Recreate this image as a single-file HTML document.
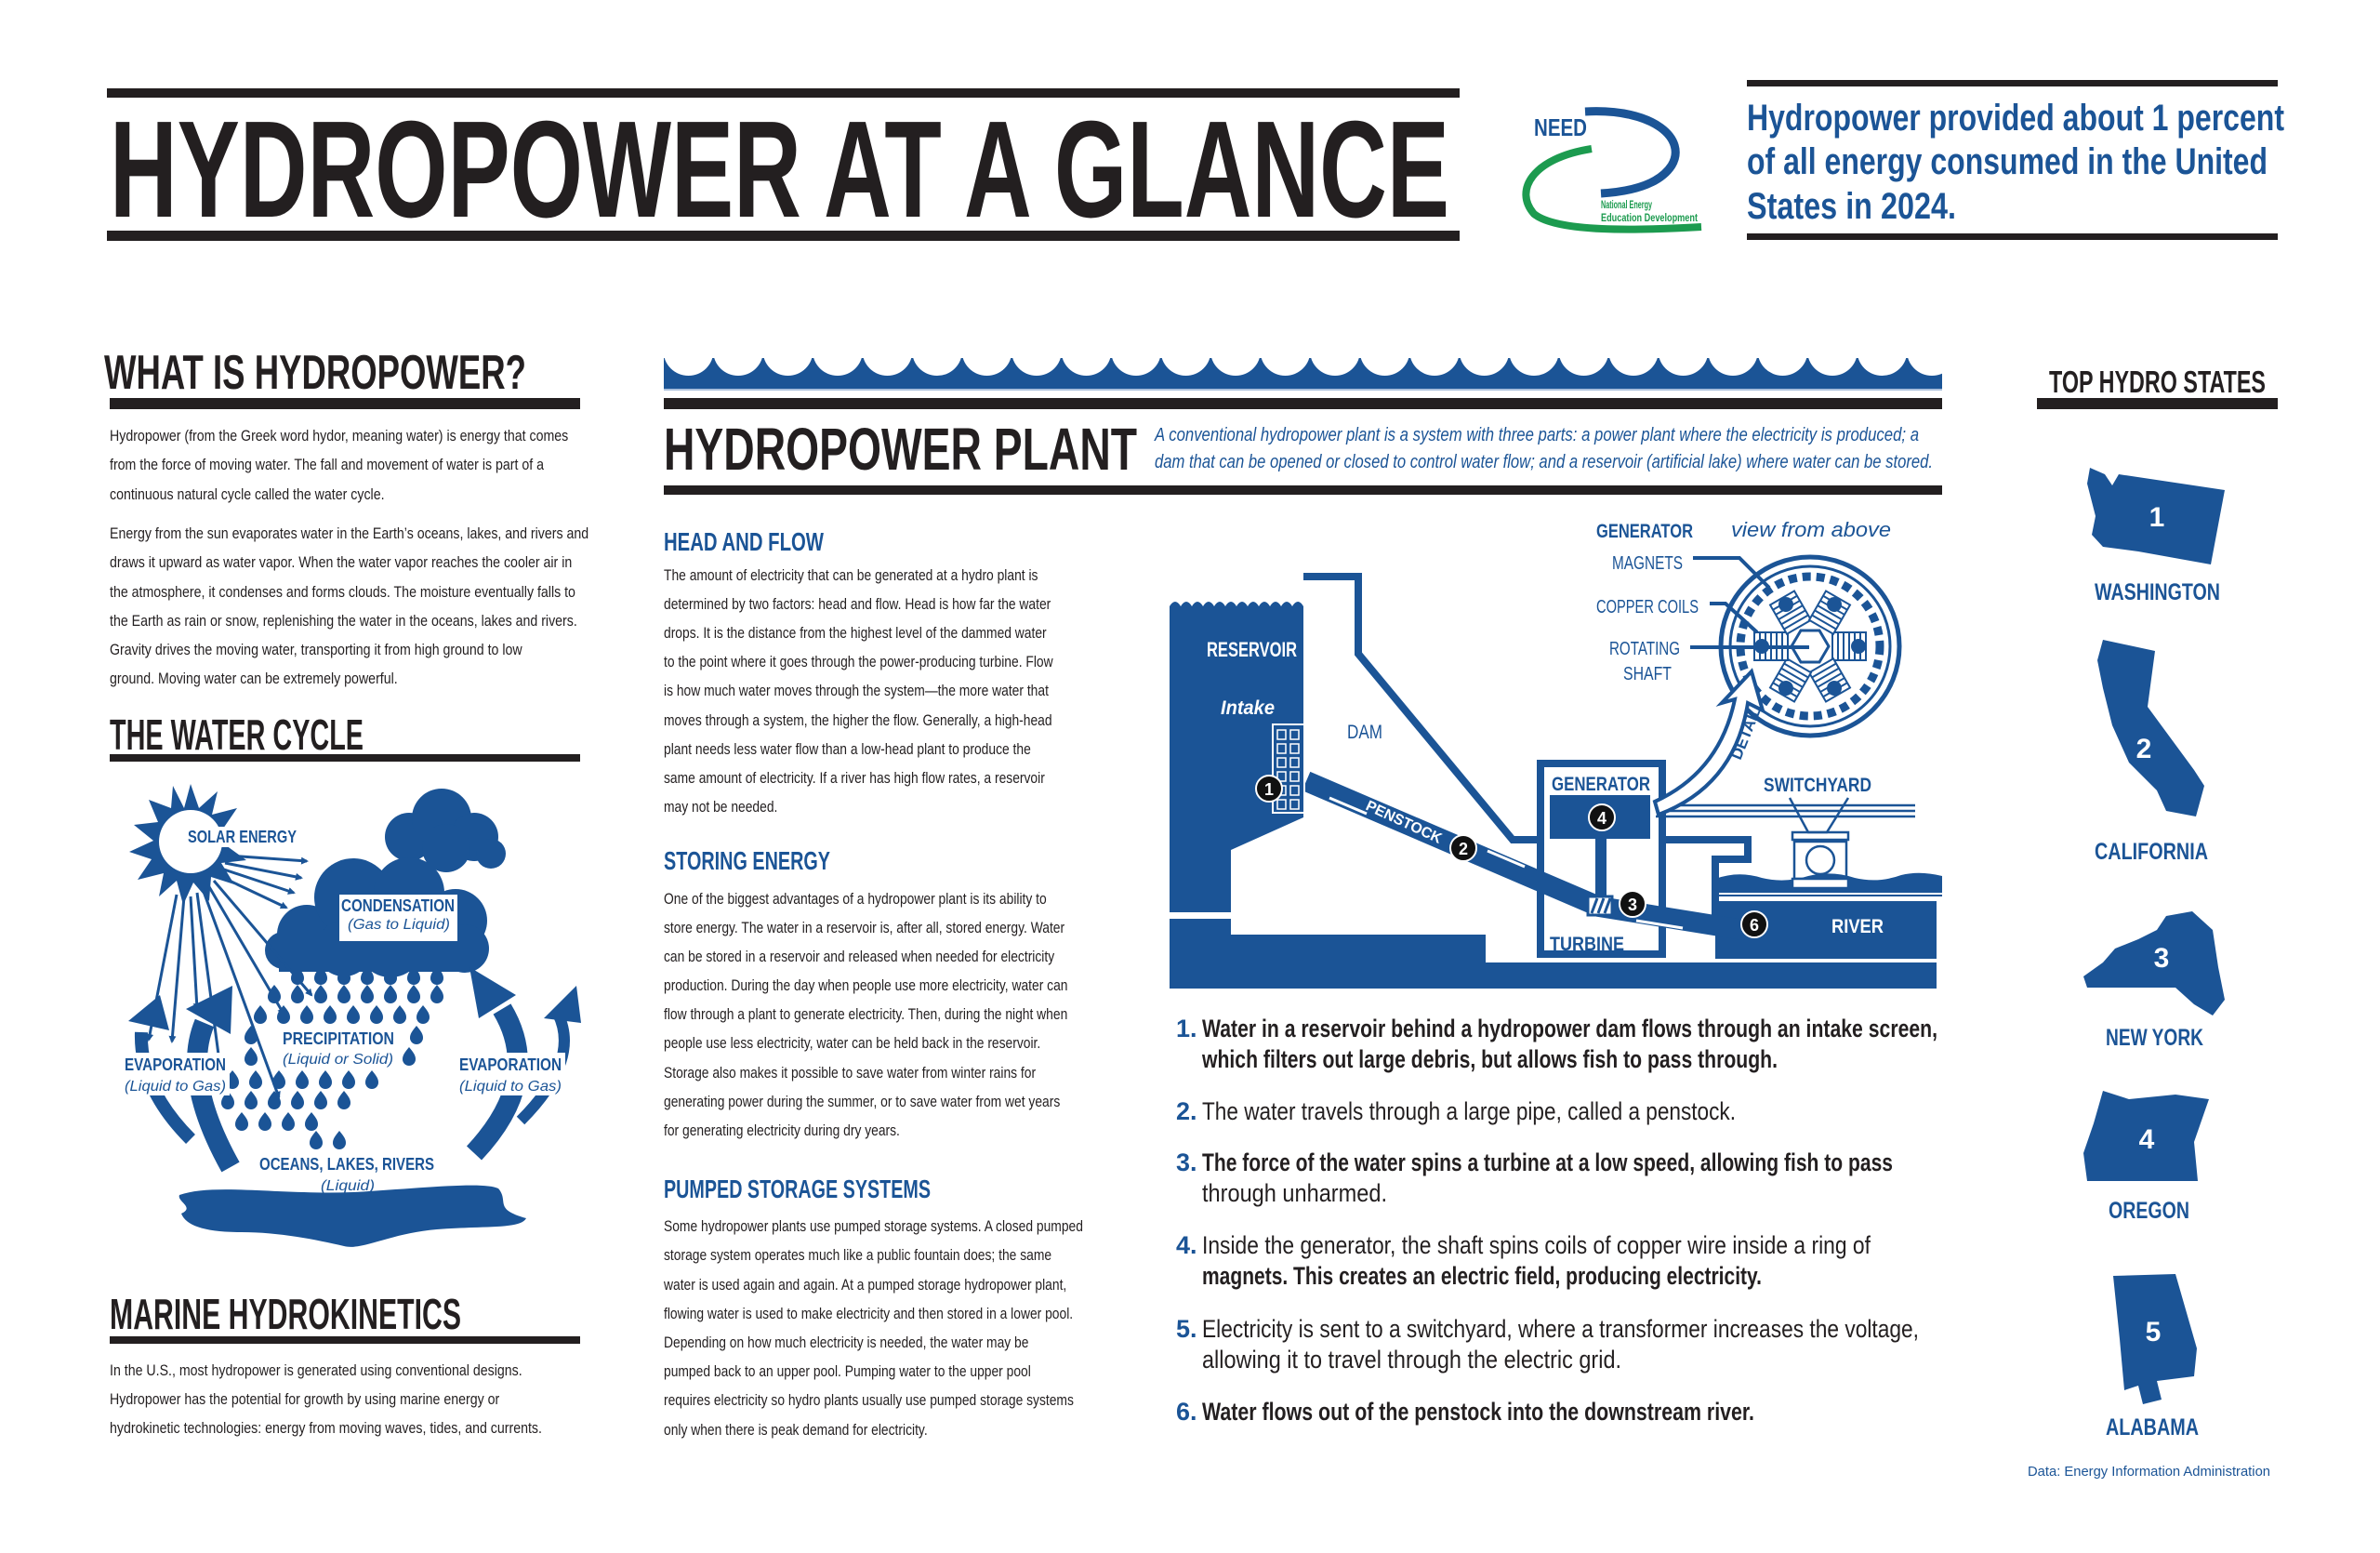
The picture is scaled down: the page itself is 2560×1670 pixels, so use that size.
<!DOCTYPE html>
<html><head><meta charset="utf-8"><style>
html,body{margin:0;padding:0;background:#fff;}
svg{display:block;}
text{font-family:"Liberation Sans",sans-serif;}
</style></head><body>
<svg width="2560" height="1670" viewBox="0 0 2560 1670" xmlns="http://www.w3.org/2000/svg">
<defs>
<path id="drop" d="M0,-9 C5,-3 7,0 7,4 A7,7 0 0 1 -7,4 C-7,0 -5,-3 0,-9Z" fill="#1b5496"/>
<marker id="ah" markerWidth="8" markerHeight="8" refX="6" refY="4" orient="auto" markerUnits="userSpaceOnUse"><path d="M0,0 L8,4 L0,8Z" fill="#1b5496"/></marker>
</defs>
<rect width="2560" height="1670" fill="#fff"/>

<!-- HEADER -->
<rect x="115" y="95" width="1455" height="10" fill="#231f20"/>
<rect x="115" y="248" width="1455" height="11" fill="#231f20"/>
<text x="118" y="233" font-size="148" font-weight="bold" fill="#231f20" textLength="1441" lengthAdjust="spacingAndGlyphs">HYDROPOWER AT A GLANCE</text>

<!-- NEED logo -->
<path d="M1705,120 C1780,116 1815,150 1798,178 C1785,198 1755,206 1722,208" fill="none" stroke="#1b5496" stroke-width="9"/>
<path d="M1712,160 C1648,170 1628,205 1650,230 C1675,250 1760,248 1830,244" fill="none" stroke="#1c9b4f" stroke-width="8"/>
<text x="1650" y="146" font-size="26" font-weight="bold" fill="#1b5496" textLength="57" lengthAdjust="spacingAndGlyphs">NEED</text>
<text x="1722" y="224" font-size="12" font-weight="bold" fill="#1c9b4f" textLength="55" lengthAdjust="spacingAndGlyphs">National Energy</text>
<text x="1722" y="238" font-size="12" font-weight="bold" fill="#1c9b4f" textLength="104" lengthAdjust="spacingAndGlyphs">Education Development</text>

<rect x="1879" y="86" width="571" height="7" fill="#231f20"/>
<rect x="1879" y="251" width="571" height="7" fill="#231f20"/>
<g font-size="40" font-weight="bold" fill="#1b5496">
<text x="1879" y="140" textLength="578" lengthAdjust="spacingAndGlyphs">Hydropower provided about 1 percent</text>
<text x="1879" y="187" textLength="560" lengthAdjust="spacingAndGlyphs">of all energy consumed in the United</text>
<text x="1879" y="235" textLength="225" lengthAdjust="spacingAndGlyphs">States in 2024.</text>
</g>

<!-- LEFT COLUMN -->
<text x="112" y="418" font-size="52" font-weight="bold" fill="#231f20" textLength="454" lengthAdjust="spacingAndGlyphs">WHAT IS HYDROPOWER?</text>
<rect x="118" y="428" width="506" height="12" fill="#231f20"/>
<g transform="translate(118,0) scale(0.86,1)"><text font-size="16.5" fill="#231f20">
<tspan x="0" y="474">Hydropower (from the Greek word hydor, meaning water) is energy that comes</tspan>
<tspan x="0" y="505">from the force of moving water. The fall and movement of water is part of a</tspan>
<tspan x="0" y="537">continuous natural cycle called the water cycle.</tspan>
<tspan x="0" y="579">Energy from the sun evaporates water in the Earth’s oceans, lakes, and rivers and</tspan>
<tspan x="0" y="610">draws it upward as water vapor. When the water vapor reaches the cooler air in</tspan>
<tspan x="0" y="642">the atmosphere, it condenses and forms clouds. The moisture eventually falls to</tspan>
<tspan x="0" y="673">the Earth as rain or snow, replenishing the water in the oceans, lakes and rivers.</tspan>
<tspan x="0" y="704">Gravity drives the moving water, transporting it from high ground to low</tspan>
<tspan x="0" y="735">ground. Moving water can be extremely powerful.</tspan>
</text></g>

<text x="118" y="806" font-size="46" font-weight="bold" fill="#231f20" textLength="273" lengthAdjust="spacingAndGlyphs">THE WATER CYCLE</text>
<rect x="118" y="811" width="506" height="8" fill="#231f20"/>

<!-- water cycle -->
<g fill="#1b5496" stroke="none">
<polygon points="205,843 214,869 234,851 228,876 255,869 240,891 267,895 243,909 265,925 238,928 252,951 227,943 225,969 208,949 197,973 190,947 171,964 176,939 148,946 163,924 139,916 165,904 144,887 170,884 160,860 184,869 186,845 198,869"/>
<circle cx="205" cy="905" r="34" fill="#fff"/>
<circle cx="440" cy="900" r="26"/><circle cx="475" cy="880" r="32"/><circle cx="510" cy="900" r="26"/><circle cx="528" cy="918" r="16"/><circle cx="480" cy="912" r="26"/>
<circle cx="330" cy="1005" r="32"/><circle cx="380" cy="965" r="42"/><circle cx="440" cy="960" r="38"/><circle cx="490" cy="990" r="34"/><circle cx="500" cy="1020" r="26"/><circle cx="420" cy="1015" r="36"/><circle cx="370" cy="1020" r="30"/><circle cx="305" cy="1022" r="20"/>
<rect x="300" y="1000" width="200" height="45"/>
</g>
<rect x="365" y="962" width="127" height="50" fill="#fff"/>
<g stroke="#1b5496" stroke-width="3" marker-end="url(#ah)" fill="none">
<line x1="245" y1="920" x2="330" y2="926"/>
<line x1="242" y1="928" x2="324" y2="944"/>
<line x1="238" y1="934" x2="316" y2="960"/>
<line x1="232" y1="940" x2="308" y2="976"/>
<line x1="190" y1="962" x2="160" y2="1118"/>
<line x1="198" y1="964" x2="185" y2="1120"/>
<line x1="205" y1="964" x2="212" y2="1085"/>
<line x1="212" y1="960" x2="240" y2="1172"/>
<line x1="218" y1="956" x2="300" y2="1180"/>
<line x1="224" y1="952" x2="305" y2="1090"/>
<line x1="230" y1="947" x2="335" y2="1070"/>
</g>
<g>
<use href="#drop" x="320" y="1048"/><use href="#drop" x="345" y="1048"/><use href="#drop" x="370" y="1048"/><use href="#drop" x="395" y="1048"/><use href="#drop" x="420" y="1048"/><use href="#drop" x="445" y="1048"/><use href="#drop" x="470" y="1048"/>
<use href="#drop" x="295" y="1068"/><use href="#drop" x="320" y="1068"/><use href="#drop" x="345" y="1068"/><use href="#drop" x="370" y="1068"/><use href="#drop" x="395" y="1068"/><use href="#drop" x="420" y="1068"/><use href="#drop" x="445" y="1068"/><use href="#drop" x="470" y="1068"/>
<use href="#drop" x="280" y="1090"/><use href="#drop" x="305" y="1090"/><use href="#drop" x="330" y="1090"/><use href="#drop" x="355" y="1090"/><use href="#drop" x="380" y="1090"/><use href="#drop" x="405" y="1090"/><use href="#drop" x="430" y="1090"/><use href="#drop" x="455" y="1090"/>
<use href="#drop" x="270" y="1112"/><use href="#drop" x="448" y="1112"/>
<use href="#drop" x="270" y="1135"/><use href="#drop" x="440" y="1135"/>
<use href="#drop" x="250" y="1160"/><use href="#drop" x="275" y="1160"/><use href="#drop" x="300" y="1160"/><use href="#drop" x="325" y="1160"/><use href="#drop" x="350" y="1160"/><use href="#drop" x="375" y="1160"/><use href="#drop" x="400" y="1160"/>
<use href="#drop" x="245" y="1182"/><use href="#drop" x="270" y="1182"/><use href="#drop" x="295" y="1182"/><use href="#drop" x="320" y="1182"/><use href="#drop" x="345" y="1182"/><use href="#drop" x="370" y="1182"/>
<use href="#drop" x="260" y="1205"/><use href="#drop" x="285" y="1205"/><use href="#drop" x="310" y="1205"/><use href="#drop" x="335" y="1205"/>
<use href="#drop" x="340" y="1225"/><use href="#drop" x="365" y="1225"/>
</g>
<g fill="none" stroke="#1b5496">
<path d="M205,1225 Q150,1170 152,1110" stroke-width="14"/>
<path d="M248,1255 Q195,1160 220,1100" stroke-width="22"/>
<path d="M510,1240 Q585,1160 540,1085" stroke-width="22"/>
<path d="M560,1205 Q625,1140 600,1090" stroke-width="12"/>
</g>
<g fill="#1b5496">
<polygon points="138,1098 172,1070 182,1108"/>
<polygon points="200,1085 250,1060 248,1112"/>
<polygon points="505,1040 555,1070 515,1095"/>
<polygon points="585,1095 620,1060 625,1100"/>
<path d="M193,1285 C230,1272 300,1285 380,1282 C450,1278 520,1270 536,1278 C548,1292 530,1300 566,1310 C560,1322 520,1318 470,1322 C420,1326 390,1345 370,1340 C340,1333 300,1325 260,1325 C220,1325 200,1318 195,1305 C210,1298 190,1292 193,1285Z"/>
</g>
<g fill="#fff">
<rect x="200" y="889" width="122" height="22"/>
<rect x="300" y="1104" width="128" height="46"/>
<rect x="130" y="1132" width="117" height="46"/>
<rect x="490" y="1132" width="118" height="46"/>
</g>
<g fill="#1b5496" font-weight="bold">
<text x="202" y="906" font-size="18" textLength="117" lengthAdjust="spacingAndGlyphs">SOLAR ENERGY</text>
<text x="367" y="980" font-size="18" textLength="122" lengthAdjust="spacingAndGlyphs">CONDENSATION</text>
<text x="374" y="999" font-size="16" font-style="italic" font-weight="normal" textLength="110" lengthAdjust="spacingAndGlyphs">(Gas to Liquid)</text>
<text x="304" y="1123" font-size="18" textLength="120" lengthAdjust="spacingAndGlyphs">PRECIPITATION</text>
<text x="304" y="1144" font-size="16" font-style="italic" font-weight="normal" textLength="119" lengthAdjust="spacingAndGlyphs">(Liquid or Solid)</text>
<text x="134" y="1151" font-size="18" textLength="109" lengthAdjust="spacingAndGlyphs">EVAPORATION</text>
<text x="134" y="1173" font-size="16" font-style="italic" font-weight="normal" textLength="109" lengthAdjust="spacingAndGlyphs">(Liquid to Gas)</text>
<text x="494" y="1151" font-size="18" textLength="110" lengthAdjust="spacingAndGlyphs">EVAPORATION</text>
<text x="494" y="1173" font-size="16" font-style="italic" font-weight="normal" textLength="110" lengthAdjust="spacingAndGlyphs">(Liquid to Gas)</text>
<text x="279" y="1258" font-size="18" textLength="188" lengthAdjust="spacingAndGlyphs">OCEANS, LAKES, RIVERS</text>
<text x="345" y="1280" font-size="16" font-style="italic" font-weight="normal" textLength="58" lengthAdjust="spacingAndGlyphs">(Liquid)</text>
</g>

<text x="118" y="1429" font-size="46" font-weight="bold" fill="#231f20" textLength="378" lengthAdjust="spacingAndGlyphs">MARINE HYDROKINETICS</text>
<rect x="118" y="1437" width="506" height="8" fill="#231f20"/>
<g transform="translate(118,0) scale(0.86,1)"><text font-size="16.5" fill="#231f20">
<tspan x="0" y="1479">In the U.S., most hydropower is generated using conventional designs.</tspan>
<tspan x="0" y="1510">Hydropower has the potential for growth by using marine energy or</tspan>
<tspan x="0" y="1541">hydrokinetic technologies: energy from moving waves, tides, and currents.</tspan>
</text></g>

<!-- MIDDLE -->
<rect x="714" y="385" width="1375" height="33" fill="#1b5496"/>
<g fill="#fff">
<circle cx="740.5" cy="377" r="27"/><circle cx="794" cy="377" r="27"/><circle cx="847.5" cy="377" r="27"/><circle cx="901" cy="377" r="27"/><circle cx="954.5" cy="377" r="27"/><circle cx="1008" cy="377" r="27"/><circle cx="1061.5" cy="377" r="27"/><circle cx="1115" cy="377" r="27"/><circle cx="1168.5" cy="377" r="27"/><circle cx="1222" cy="377" r="27"/><circle cx="1275.5" cy="377" r="27"/><circle cx="1329" cy="377" r="27"/><circle cx="1382.5" cy="377" r="27"/><circle cx="1436" cy="377" r="27"/><circle cx="1489.5" cy="377" r="27"/><circle cx="1543" cy="377" r="27"/><circle cx="1596.5" cy="377" r="27"/><circle cx="1650" cy="377" r="27"/><circle cx="1703.5" cy="377" r="27"/><circle cx="1757" cy="377" r="27"/><circle cx="1810.5" cy="377" r="27"/><circle cx="1864" cy="377" r="27"/><circle cx="1917.5" cy="377" r="27"/><circle cx="1971" cy="377" r="27"/><circle cx="2024.5" cy="377" r="27"/><circle cx="2078" cy="377" r="27"/>
</g>
<rect x="714" y="418" width="1375" height="2" fill="#a9bfdc"/>
<rect x="714" y="428" width="1375" height="12" fill="#231f20"/>
<text x="714" y="505" font-size="64" font-weight="bold" fill="#231f20" textLength="509" lengthAdjust="spacingAndGlyphs">HYDROPOWER PLANT</text>
<g font-size="20" font-style="italic" fill="#1b5496">
<text x="1242" y="474" textLength="822" lengthAdjust="spacingAndGlyphs">A conventional hydropower plant is a system with three parts: a power plant where the electricity is produced; a</text>
<text x="1242" y="503" textLength="837" lengthAdjust="spacingAndGlyphs">dam that can be opened or closed to control water flow; and a reservoir (artificial lake) where water can be stored.</text>
</g>
<rect x="714" y="522" width="1375" height="10" fill="#231f20"/>

<g font-size="28" font-weight="bold" fill="#1b5496">
<text x="714" y="592" textLength="172" lengthAdjust="spacingAndGlyphs">HEAD AND FLOW</text>
<text x="714" y="935" textLength="179" lengthAdjust="spacingAndGlyphs">STORING ENERGY</text>
<text x="714" y="1288" textLength="287" lengthAdjust="spacingAndGlyphs">PUMPED STORAGE SYSTEMS</text>
</g>
<g transform="translate(714,0) scale(0.84,1)"><text font-size="16.5" fill="#231f20">
<tspan x="0" y="624">The amount of electricity that can be generated at a hydro plant is</tspan>
<tspan x="0" y="655">determined by two factors: head and flow. Head is how far the water</tspan>
<tspan x="0" y="686">drops. It is the distance from the highest level of the dammed water</tspan>
<tspan x="0" y="717">to the point where it goes through the power-producing turbine. Flow</tspan>
<tspan x="0" y="748">is how much water moves through the system—the more water that</tspan>
<tspan x="0" y="780">moves through a system, the higher the flow. Generally, a high-head</tspan>
<tspan x="0" y="811">plant needs less water flow than a low-head plant to produce the</tspan>
<tspan x="0" y="842">same amount of electricity. If a river has high flow rates, a reservoir</tspan>
<tspan x="0" y="873">may not be needed.</tspan>
<tspan x="0" y="972">One of the biggest advantages of a hydropower plant is its ability to</tspan>
<tspan x="0" y="1003">store energy. The water in a reservoir is, after all, stored energy.  Water</tspan>
<tspan x="0" y="1034">can be stored in a reservoir and released when needed for electricity</tspan>
<tspan x="0" y="1065">production. During the day when people use more electricity, water can</tspan>
<tspan x="0" y="1096">flow through a plant to generate electricity. Then, during the night when</tspan>
<tspan x="0" y="1127">people use less electricity, water can be held back in the reservoir.</tspan>
<tspan x="0" y="1159">Storage also makes it possible to save water from winter rains for</tspan>
<tspan x="0" y="1190">generating power during the summer, or to save water from wet years</tspan>
<tspan x="0" y="1221">for generating electricity during dry years.</tspan>
<tspan x="0" y="1324">Some hydropower plants use pumped storage systems. A closed pumped</tspan>
<tspan x="0" y="1355">storage system operates much like a public fountain does; the same</tspan>
<tspan x="0" y="1387">water is used again and again. At a pumped storage hydropower plant,</tspan>
<tspan x="0" y="1418">flowing water is used to make electricity and then stored in a lower pool.</tspan>
<tspan x="0" y="1449">Depending on how much electricity is needed, the water may be</tspan>
<tspan x="0" y="1480">pumped back to an upper pool. Pumping water to the upper pool</tspan>
<tspan x="0" y="1511">requires electricity so hydro plants usually use pumped storage systems</tspan>
<tspan x="0" y="1543">only when there is peak demand for electricity.</tspan>
</text></g>

<!-- PLANT DIAGRAM -->
<g fill="#1b5496">
<path d="M1258,652 Q1264,642 1270,652 Q1276,642 1282,652 Q1288,642 1294,652 Q1300,642 1306,652 Q1312,642 1318,652 Q1324,642 1330,652 Q1336,642 1342,652 Q1348,642 1354,652 Q1360,642 1366,652 Q1372,642 1378,652 Q1384,642 1390,652 Q1396,642 1402,652 L1402,879 L1324,914 L1324,981 L1258,981 Z"/>
<rect x="1258" y="988" width="66" height="75"/>
<rect x="1258" y="1005" width="340" height="58"/>
<rect x="1590" y="1035" width="493" height="28"/>
<rect x="1845" y="969" width="238" height="62"/>
<path d="M1845,945 Q1870,936 1895,944 Q1920,950 1945,942 Q1970,936 1995,944 Q2020,950 2045,941 Q2065,936 2089,942 L2089,960 L1845,960 Z"/>
</g>
<rect x="1845" y="962" width="244" height="2" fill="#1b5496"/>
<g fill="none" stroke="#1b5496" stroke-width="8">
<path d="M1402,620 L1461,620 L1461,703 L1627,903 L1653,903"/>
<rect x="1657" y="821" width="131" height="205"/>
<path d="M1792,903 L1880,903 L1880,924 L1845,924 L1845,990"/>
<path d="M1405,840 L1720,975 L1875,1000" stroke-width="22"/>
<line x1="1722" y1="902" x2="1722" y2="975" stroke-width="12"/>
</g>
<path d="M1430,858 L1470,875 M1600,915 L1640,932 M1760,990 L1810,998" stroke="#fff" stroke-width="3"/>
<rect x="1667" y="855" width="108" height="47" fill="#1b5496"/>
<rect x="1708" y="964" width="26" height="20" fill="#fff" stroke="#1b5496" stroke-width="3"/>
<path d="M1712,982 L1718,966 M1719,982 L1725,966 M1726,982 L1732,966" stroke="#1b5496" stroke-width="3"/>
<rect x="1369" y="779" width="34" height="95" fill="#1b5496" stroke="#fff" stroke-width="2"/>
<g fill="none" stroke="#fff" stroke-width="1.5">
<rect x="1374" y="785" width="9" height="10"/><rect x="1388" y="785" width="9" height="10"/>
<rect x="1374" y="800" width="9" height="10"/><rect x="1388" y="800" width="9" height="10"/>
<rect x="1374" y="815" width="9" height="10"/><rect x="1388" y="815" width="9" height="10"/>
<rect x="1374" y="830" width="9" height="10"/><rect x="1388" y="830" width="9" height="10"/>
<rect x="1374" y="845" width="9" height="10"/><rect x="1388" y="845" width="9" height="10"/>
<rect x="1374" y="860" width="9" height="10"/><rect x="1388" y="860" width="9" height="10"/>
</g>
<g stroke="#1b5496" stroke-width="2.5" fill="none">
<line x1="1781" y1="866" x2="2060" y2="866"/><line x1="1781" y1="872" x2="2060" y2="872"/><line x1="1781" y1="878" x2="2060" y2="878"/>
<path d="M1925,858 L1945,895 L1965,895 L1988,858"/>
<rect x="1928" y="895" width="60" height="8"/>
<rect x="1930" y="905" width="56" height="40"/>
<circle cx="1958" cy="925" r="15"/>
<rect x="1928" y="945" width="60" height="10" fill="#fff"/>
</g>
<g fill="none" stroke="#1b5496">
<circle cx="1947" cy="695" r="96" stroke-width="5"/>
<circle cx="1947" cy="695" r="86" stroke-width="3"/>
<circle cx="1947" cy="695" r="75" stroke-width="9" stroke-dasharray="9,6"/>
</g>
<g stroke="#1b5496" stroke-width="2" fill="#fff">
<g transform="translate(1947,695)">
<g transform="rotate(0)"><rect x="24" y="-15" width="36" height="30"/><path d="M30,-15 V15 M36,-15 V15 M42,-15 V15 M48,-15 V15 M54,-15 V15"/></g>
<g transform="rotate(60)"><rect x="24" y="-15" width="36" height="30"/><path d="M30,-15 V15 M36,-15 V15 M42,-15 V15 M48,-15 V15 M54,-15 V15"/></g>
<g transform="rotate(120)"><rect x="24" y="-15" width="36" height="30"/><path d="M30,-15 V15 M36,-15 V15 M42,-15 V15 M48,-15 V15 M54,-15 V15"/></g>
<g transform="rotate(180)"><rect x="24" y="-15" width="36" height="30"/><path d="M30,-15 V15 M36,-15 V15 M42,-15 V15 M48,-15 V15 M54,-15 V15"/></g>
<g transform="rotate(240)"><rect x="24" y="-15" width="36" height="30"/><path d="M30,-15 V15 M36,-15 V15 M42,-15 V15 M48,-15 V15 M54,-15 V15"/></g>
<g transform="rotate(300)"><rect x="24" y="-15" width="36" height="30"/><path d="M30,-15 V15 M36,-15 V15 M42,-15 V15 M48,-15 V15 M54,-15 V15"/></g>
<g fill="#1b5496" stroke="none">
<circle cx="0" cy="-52" r="8" transform="rotate(30)"/><circle cx="0" cy="-52" r="8" transform="rotate(90)"/><circle cx="0" cy="-52" r="8" transform="rotate(150)"/><circle cx="0" cy="-52" r="8" transform="rotate(210)"/><circle cx="0" cy="-52" r="8" transform="rotate(270)"/><circle cx="0" cy="-52" r="8" transform="rotate(330)"/>
</g>
<polygon points="20,0 10,17 -10,17 -20,0 -10,-17 10,-17" stroke-width="3"/>
</g>
</g>
<g stroke="#1b5496" stroke-width="4" fill="none">
<path d="M1821,600 L1871,600 L1903,632"/>
<path d="M1839,649 L1856,649 L1890,680"/>
<path d="M1818,696 L1946,696"/>
</g>
<path d="M1780,862 Q1850,830 1866,752 L1852,756 L1884,722 L1896,764 L1880,756 Q1866,845 1784,876 Z" fill="#fff" stroke="#1b5496" stroke-width="4"/>
<text transform="translate(1872,818) rotate(-68)" font-size="17" font-weight="bold" fill="#1b5496">DETAIL</text>
<g font-weight="bold">
<text x="1298" y="706" font-size="22" fill="#fff" textLength="97" lengthAdjust="spacingAndGlyphs">RESERVOIR</text>
<text x="1313" y="768" font-size="21" font-style="italic" fill="#fff" textLength="58" lengthAdjust="spacingAndGlyphs">Intake</text>
<text x="1449" y="794" font-size="21" font-weight="normal" fill="#1b5496" textLength="38" lengthAdjust="spacingAndGlyphs">DAM</text>
<text x="1669" y="850" font-size="21" fill="#1b5496" textLength="106" lengthAdjust="spacingAndGlyphs">GENERATOR</text>
<text x="1667" y="1022" font-size="21" fill="#1b5496" textLength="80" lengthAdjust="spacingAndGlyphs">TURBINE</text>
<text x="1897" y="851" font-size="21" fill="#1b5496" textLength="116" lengthAdjust="spacingAndGlyphs">SWITCHYARD</text>
<text x="1970" y="1003" font-size="21" fill="#fff" textLength="56" lengthAdjust="spacingAndGlyphs">RIVER</text>
<text transform="translate(1468,870) rotate(25)" font-size="16" fill="#fff" textLength="88" lengthAdjust="spacingAndGlyphs">PENSTOCK</text>
<text x="1717" y="578" font-size="21" fill="#1b5496" textLength="104" lengthAdjust="spacingAndGlyphs">GENERATOR</text>
<text x="1862" y="577" font-size="22" font-weight="normal" font-style="italic" fill="#1b5496" textLength="172" lengthAdjust="spacingAndGlyphs">view from above</text>
<text x="1734" y="612" font-size="20" font-weight="normal" fill="#1b5496" textLength="76" lengthAdjust="spacingAndGlyphs">MAGNETS</text>
<text x="1717" y="659" font-size="20" font-weight="normal" fill="#1b5496" textLength="110" lengthAdjust="spacingAndGlyphs">COPPER COILS</text>
<text x="1731" y="704" font-size="20" font-weight="normal" fill="#1b5496" textLength="76" lengthAdjust="spacingAndGlyphs">ROTATING</text>
<text x="1746" y="731" font-size="20" font-weight="normal" fill="#1b5496" textLength="52" lengthAdjust="spacingAndGlyphs">SHAFT</text>
</g>
<g font-size="18" font-weight="bold" text-anchor="middle">
<circle cx="1365" cy="848" r="14" fill="#111" stroke="#fff" stroke-width="2"/><text x="1365" y="855" fill="#fff">1</text>
<circle cx="1574" cy="912" r="14" fill="#111" stroke="#fff" stroke-width="2"/><text x="1574" y="919" fill="#fff">2</text>
<circle cx="1756" cy="972" r="14" fill="#111" stroke="#fff" stroke-width="2"/><text x="1756" y="979" fill="#fff">3</text>
<circle cx="1723" cy="879" r="14" fill="#111" stroke="#fff" stroke-width="2"/><text x="1723" y="886" fill="#fff">4</text>
<circle cx="1887" cy="994" r="14" fill="#111" stroke="#fff" stroke-width="2"/><text x="1887" y="1001" fill="#fff">6</text>
</g>

<g font-size="27" font-weight="bold" fill="#1b5496">
<text x="1265" y="1115">1.</text><text x="1265" y="1204">2.</text><text x="1265" y="1259">3.</text><text x="1265" y="1348">4.</text><text x="1265" y="1438">5.</text><text x="1265" y="1527">6.</text>
</g>
<g font-size="27" fill="#231f20">
<text x="1293" y="1115" font-weight="bold" textLength="791" lengthAdjust="spacingAndGlyphs">Water in a reservoir behind a hydropower dam flows through an intake screen,</text>
<text x="1293" y="1148" font-weight="bold" textLength="619" lengthAdjust="spacingAndGlyphs">which filters out large debris, but allows fish to pass through.</text>
<text x="1293" y="1204" textLength="574" lengthAdjust="spacingAndGlyphs">The water travels through a large pipe, called a penstock.</text>
<text x="1293" y="1259" font-weight="bold" textLength="743" lengthAdjust="spacingAndGlyphs">The force of the water spins a turbine at a low speed, allowing fish to pass</text>
<text x="1293" y="1292" textLength="199" lengthAdjust="spacingAndGlyphs">through unharmed.</text>
<text x="1293" y="1348" textLength="719" lengthAdjust="spacingAndGlyphs">Inside the generator, the shaft spins coils of copper wire inside a ring of</text>
<text x="1293" y="1381" font-weight="bold" textLength="602" lengthAdjust="spacingAndGlyphs">magnets. This creates an electric field, producing electricity.</text>
<text x="1293" y="1438" textLength="771" lengthAdjust="spacingAndGlyphs">Electricity is sent to a switchyard, where a transformer increases the voltage,</text>
<text x="1293" y="1471" textLength="451" lengthAdjust="spacingAndGlyphs">allowing it to travel through the electric grid.</text>
<text x="1293" y="1527" font-weight="bold" textLength="594" lengthAdjust="spacingAndGlyphs">Water flows out of the penstock into the downstream river.</text>
</g>

<!-- RIGHT COLUMN -->
<text x="2204" y="422" font-size="33" font-weight="bold" fill="#231f20" textLength="233" lengthAdjust="spacingAndGlyphs">TOP HYDRO STATES</text>
<rect x="2191" y="428" width="259" height="12" fill="#231f20"/>
<g fill="#1b5496">
<polygon points="2248,503 2264,510 2272,522 2279,510 2393,527 2378,607 2300,593 2262,588 2250,575 2254,555 2245,520"/>
<polygon points="2262,688 2318,700 2310,760 2360,828 2371,845 2362,878 2330,872 2320,850 2290,820 2272,780 2262,740 2256,710"/>
<polygon points="2330,985 2358,980 2380,1000 2386,1040 2393,1075 2380,1092 2360,1080 2340,1062 2245,1062 2241,1050 2262,1035 2275,1020 2300,1010 2320,1000"/>
<polygon points="2262,1173 2290,1182 2340,1177 2376,1182 2368,1205 2360,1228 2364,1270 2245,1270 2241,1240 2252,1208"/>
<polygon points="2273,1372 2340,1370 2363,1450 2360,1480 2320,1485 2325,1505 2305,1510 2300,1490 2285,1495 2280,1440"/>
</g>
<g font-size="30" font-weight="bold" fill="#fff" text-anchor="middle">
<text x="2320" y="566">1</text><text x="2306" y="815">2</text><text x="2325" y="1040">3</text><text x="2309" y="1235">4</text><text x="2316" y="1442">5</text>
</g>
<g font-size="25" font-weight="bold" fill="#1b5496">
<text x="2253" y="645" textLength="135" lengthAdjust="spacingAndGlyphs">WASHINGTON</text>
<text x="2253" y="924" textLength="122" lengthAdjust="spacingAndGlyphs">CALIFORNIA</text>
<text x="2265" y="1124" textLength="105" lengthAdjust="spacingAndGlyphs">NEW YORK</text>
<text x="2268" y="1310" textLength="87" lengthAdjust="spacingAndGlyphs">OREGON</text>
<text x="2265" y="1543" textLength="100" lengthAdjust="spacingAndGlyphs">ALABAMA</text>
</g>
<text x="2181" y="1587" font-size="15" fill="#1b5496" textLength="261" lengthAdjust="spacingAndGlyphs">Data: Energy Information Administration</text>
</svg>
</body></html>
